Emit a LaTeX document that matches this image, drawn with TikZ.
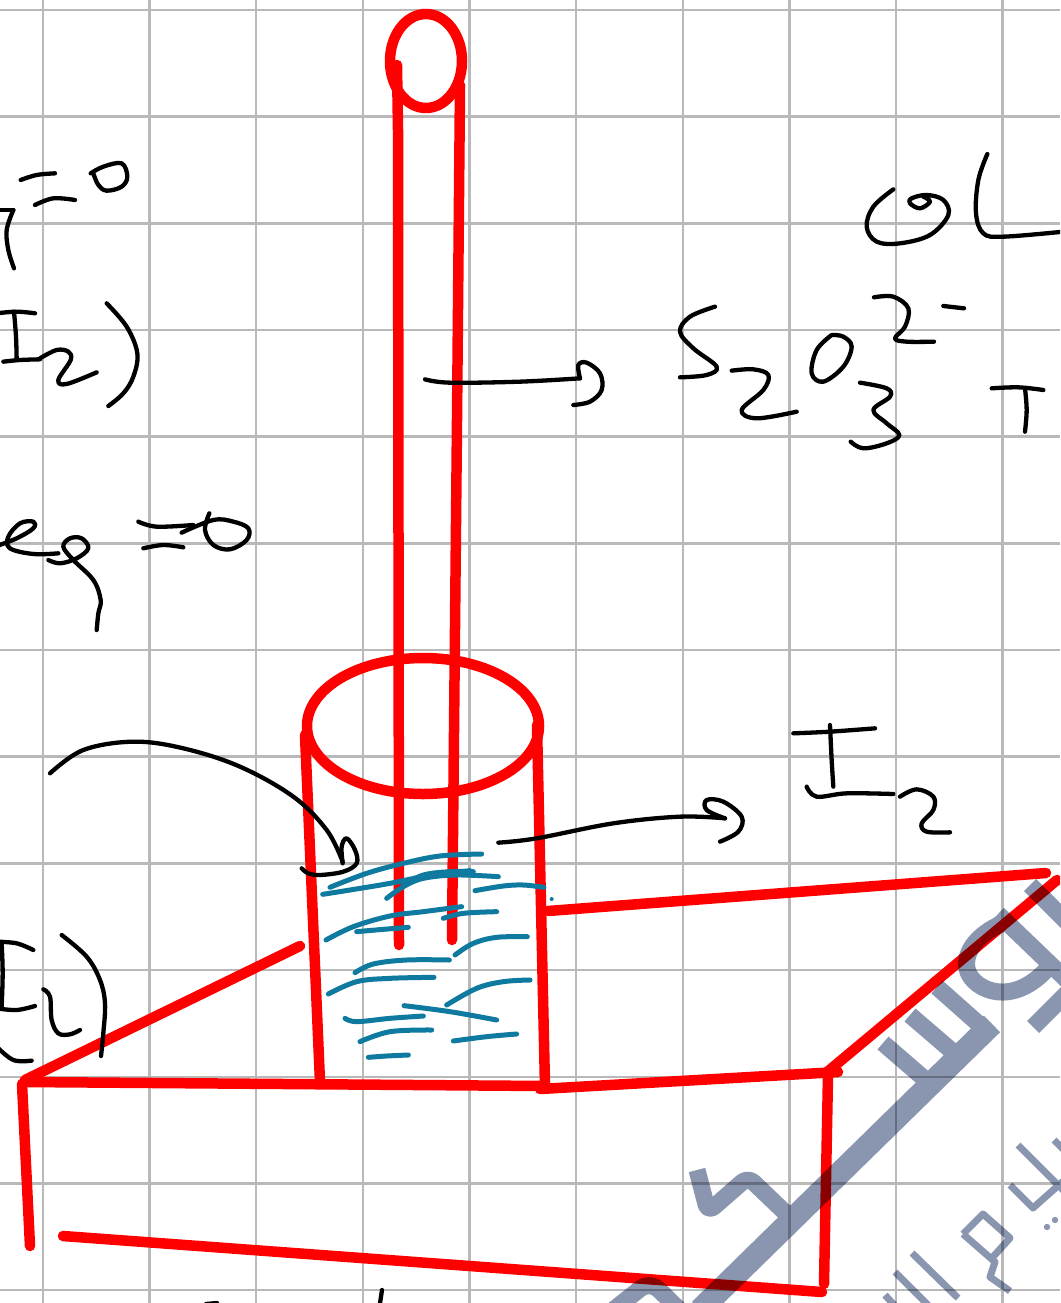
\documentclass[tikz,border=0pt]{standalone}
\usetikzlibrary{calc}
\tikzset{
  every picture/.style={x=1pt,y=-1pt},
  gridline/.style={draw=gridgray,line width=2.4pt},
  redstroke/.style={draw=penred,line width=10.5pt,line cap=round,line join=round},
  bluestroke/.style={draw=penblue,line width=5pt,line cap=round,line join=round},
  inkstroke/.style={draw=black,line width=4.3pt,line cap=round,line join=round},
  markband/.style={draw=markgray,line join=round,line cap=butt},
  crop/.style 2 args={shift={(#1,#2)},x=0.33333pt,y=-0.33333pt}
}
\definecolor{gridgray}{HTML}{B9B9B9}
\definecolor{penred}{HTML}{FF0000}
\definecolor{penblue}{HTML}{0F7A9F}
\definecolor{markgray}{HTML}{8A96AF}
\newcommand{\inkline}[1]{\draw[inkstroke] plot[smooth,tension=0.6] coordinates {#1};}
\newcommand{\blueline}[1]{\draw[bluestroke] plot[smooth,tension=0.6] coordinates {#1};}
\begin{document}
\begin{tikzpicture}
\useasboundingbox (0,0) rectangle (1060,1303);
\fill[white] (0,0) rectangle (1060,1303);
\clip (0,0) rectangle (1060,1303);
% grid paper
\foreach \k in {0,...,9} \draw[gridline] ({43+106.63*\k},0) -- ({43+106.63*\k},1303);
\foreach \k in {0,...,12} \draw[gridline] (0,{10+106.67*\k}) -- (1060,{10+106.67*\k});
% red apparatus
\draw[redstroke] (426,61) ellipse [x radius=36,y radius=47];
\draw[redstroke] (397,65) -- (398,130) -- (399,945);
\draw[redstroke] (460,85) -- (457,420) -- (452,940);
\draw[redstroke] (423,726) ellipse [x radius=116,y radius=68];
\draw[redstroke] (305,735) -- (320,1082);
\draw[redstroke] (537,725) -- (545,1087);
\draw[redstroke] (24,1082) -- (545,1086);
\draw[redstroke] (540,1089) -- (838,1072);
\draw[redstroke] (22,1084) -- (30,1246);
\draw[redstroke] (25,1080) -- (300,946);
\draw[redstroke] (548,911) -- (1046,873);
\draw[redstroke] (826,1073) -- (1057,880);
\draw[redstroke] (828,1075) -- (824,1284);
\draw[redstroke] (63,1236) -- (822,1292);
% blue solution strokes
\begin{scope}[crop={290}{830}]
\blueline{(120,172)(230,130)(340,100)(450,78)(575,72)}
\blueline{(98,193)(180,180)(300,160)(400,140)(540,122)}
\blueline{(290,205)(340,170)(400,145)(500,135)(625,140)}
\blueline{(340,165)(400,135)(480,125)(550,125)}
\blueline{(555,182)(640,168)(700,165)(762,172)}
\blueline{(108,330)(190,290)(300,258)(400,245)(515,230)}
\blueline{(200,305)(280,298)(355,292)}
\blueline{(460,265)(520,250)(620,245)}
\blueline{(495,375)(550,340)(620,322)(712,320)}
\blueline{(195,428)(250,402)(350,390)(478,390)}
\blueline{(115,492)(200,455)(300,445)(432,442)}
\blueline{(470,525)(560,475)(640,455)(720,450)}
\blueline{(342,527)(480,545)(620,570)}
\blueline{(165,565)(200,575)(300,565)(400,558)}
\blueline{(210,635)(300,605)(425,600)}
\blueline{(490,633)(590,620)(680,612)}
\blueline{(235,682)(290,678)(355,675)}
\fill[penblue] (785,207) circle (6);
\end{scope}
% handwriting: upper arrow
\begin{scope}[crop={370}{0}]
\inkline{(165,1138)(240,1148)(450,1145)(630,1135)}
\inkline{(630,1135)(625,1095)(650,1088)(690,1120)(695,1170)(660,1205)(610,1215)}
\end{scope}
% I2 and its arrow
\begin{scope}[crop={480}{700}]
\inkline{(55,428)(170,415)(400,370)(600,350)(735,355)}
\inkline{(735,355)(680,330)(680,300)(730,305)(785,350)(775,395)(720,425)}
\inkline{(940,100)(1050,95)(1185,85)}
\inkline{(1050,75)(1055,180)(1060,260)}
\inkline{(980,260)(1010,290)(1100,280)(1240,282)}
\inkline{(1260,290)(1310,268)(1360,290)(1360,330)(1325,370)(1340,395)(1410,397)}
\end{scope}
% left curved arrow and bracket fragments
\begin{scope}[crop={0}{720}]
\inkline{(150,160)(250,90)(400,65)(550,85)(720,140)(880,230)(980,330)(1028,425)}
\inkline{(1028,430)(1025,380)(1040,355)(1065,390)(1070,430)(1030,455)(960,465)(925,460)(905,445)}
\inkline{(-10,665)(50,670)(100,690)}
\inkline{(5,670)(8,760)(5,860)}
\inkline{(-10,865)(50,870)(105,858)}
\inkline{(130,808)(150,830)(155,900)(175,940)(210,943)(240,930)}
\inkline{(185,645)(260,710)(300,780)(315,850)(310,940)(303,1008)}
\inkline{(-10,980)(40,1020)(95,1022)}
\end{scope}
% upper left handwriting
\begin{scope}[crop={0}{130}]
\inkline{(-10,240)(40,240)}
\inkline{(40,240)(20,300)(25,360)(42,415)}
\inkline{(62,150)(110,135)(165,130)}
\inkline{(105,225)(160,205)(225,210)}
\inkline{(272,130)(310,110)(365,100)(382,140)(365,170)(320,182)(295,165)(280,130)}
\inkline{(-10,550)(50,545)(105,550)}
\inkline{(42,545)(48,620)(50,690)}
\inkline{(10,695)(60,690)(120,688)}
\inkline{(120,685)(170,660)(205,665)(212,690)(175,750)(200,762)(290,727)}
\inkline{(320,520)(380,590)(412,670)(400,740)(370,790)(325,828)}
\inkline{(-10,1248)(50,1225)(100,1195)(100,1175)(60,1180)(25,1220)(30,1255)(100,1272)(175,1270)}
\inkline{(145,1290)(180,1300)(230,1285)(265,1255)(245,1225)(210,1225)(190,1250)(220,1290)(280,1350)(302,1410)(295,1450)(290,1500)}
\inkline{(415,1175)(470,1190)(580,1185)}
\inkline{(430,1255)(490,1245)(550,1252)}
\inkline{(628,1150)(615,1200)(640,1245)(690,1258)(740,1230)(745,1195)(700,1175)(640,1170)(545,1208)}
\end{scope}
% upper right handwriting
\begin{scope}[crop={660}{140}]
\inkline{(700,148)(640,200)(620,260)(650,305)(720,310)(810,285)(865,225)(850,180)(800,165)(755,175)(750,190)(780,205)(810,185)(790,170)}
\inkline{(982,42)(955,120)(948,220)(970,280)(1030,290)(1210,275)}
\inkline{(165,500)(90,530)(60,575)(100,625)(170,680)(140,705)(60,712)}
\inkline{(215,692)(280,688)(325,705)(310,750)(245,810)(290,835)(410,815)}
\inkline{(515,585)(470,630)(455,700)(490,725)(550,680)(575,620)(550,590)(515,585)}
\inkline{(600,728)(680,745)(690,770)(640,810)(680,850)(718,885)(680,910)(610,925)(572,905)}
\inkline{(642,472)(700,470)(745,505)(735,560)(705,595)(740,605)(822,605)}
\inkline{(850,498)(912,505)}
\inkline{(995,745)(1075,742)(1150,750)}
\inkline{(1095,745)(1100,810)(1095,875)}
\end{scope}
% cut-off ink at the bottom edge
\draw[inkstroke] (382,1290) -- (379,1310);
\draw[inkstroke] (206,1304) -- (217,1303);
% watermark
\begin{scope}[blend mode=multiply]
\begin{scope}[transparency group]
\draw[markband,line width=23pt] (700,1310) -- (992,1024);
\draw[markband,line width=17pt,rounded corners=12pt] (598,1322) -- (650,1281) -- (700,1330);
\draw[markband,line width=17pt,rounded corners=8pt] (697,1170) -- (708,1212) -- (748,1177) -- (795,1222);
\draw[markband,line width=17pt] (883,1043) -- (935,1088);
\draw[markband,line width=17pt] (910,1015) -- (960,1058);
\draw[markband,line width=17pt] (937,987) -- (990,1034);
\draw[markband,line width=17pt] (1003,923) .. controls (975,935) and (962,955) .. (968,972) .. controls (975,990) and (1012,1008) .. (1048,968);
\draw[markband,line width=17pt] (998,914) -- (1072,985);
\draw[markband,line width=17pt] (1033,1027) -- (1070,990);
\draw[markband,line width=17pt] (1030,885) -- (1070,925);
\draw[markband,line width=7pt] (1018,1145) -- (1070,1197);
\draw[markband,line width=7pt] (1010,1185) -- (1033,1208) -- (1070,1175);
\draw[markband,line width=7pt] (963,1234) -- (983,1214) -- (1010,1238) -- (992,1258);
\draw[markband,line width=7pt] (963,1234) -- (995,1262) -- (990,1277) -- (1010,1291);
\draw[markband,line width=7pt] (912,1253) -- (958,1298);
\draw[markband,line width=7pt] (895,1272) -- (935,1312);
\draw[markband,line width=7pt] (885,1295) -- (895,1306);
\draw[markband,line width=7pt] (1054,1140) -- (1066,1152);
\fill[markgray] (1047,1227) circle (3.2) (1055,1220) circle (3.2);
\end{scope}
\end{scope}
\end{tikzpicture}
\end{document}
